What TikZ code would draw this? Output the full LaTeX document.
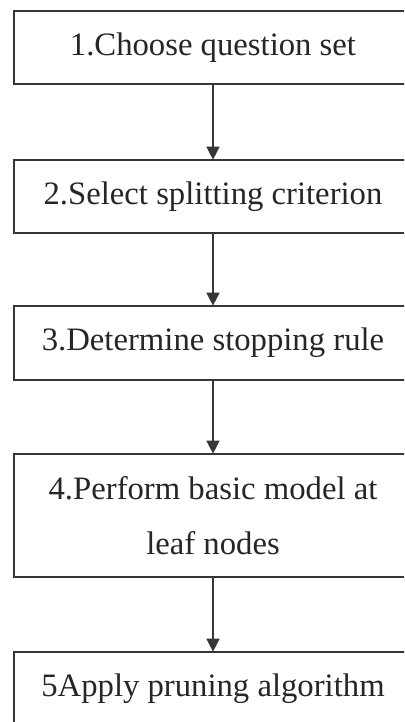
\documentclass[tikz,border=0pt]{standalone}
\usepackage{fontspec}
\setmainfont{Liberation Serif}
\usetikzlibrary{arrows.meta}
\definecolor{ink}{HTML}{262626}
\definecolor{rule}{HTML}{363636}
\begin{document}
\begin{tikzpicture}[x=1pt,y=-1pt,
  stepbox/.style={draw=rule, line width=1.7pt, rectangle, minimum width=398pt,
    inner sep=0pt, text=ink, align=center,
    font=\fontsize{32.7}{55}\selectfont},
  flow/.style={draw=rule, line width=1.5pt,
    -{Triangle[length=13pt,width=13pt]}, shorten >=-0.5pt}]
\useasboundingbox (0,0) rectangle (404,722);
\clip (0,0) rectangle (404,722);
\fill[white] (0,0) rectangle (404,722);

% five steps, one box each; the boxes run past the right and bottom edges
\node[stepbox, minimum height=73pt] (s1) at (213,47.5) {1.Choose question set};
\node[stepbox, minimum height=73pt] (s2) at (213,196.5) {2.Select splitting criterion};
\node[stepbox, minimum height=74pt] (s3) at (213,343) {3.Determine stopping rule};
\node[stepbox, minimum height=123pt] (s4) at (213,515.5) {4.Perform basic model at\\leaf nodes};
\node[stepbox, minimum height=73pt] (s5) at (213,688.5) {5Apply pruning algorithm};

\draw[flow] (s1) -- (s2);
\draw[flow] (s2) -- (s3);
\draw[flow] (s3) -- (s4);
\draw[flow] (s4) -- (s5);
\end{tikzpicture}
\end{document}
